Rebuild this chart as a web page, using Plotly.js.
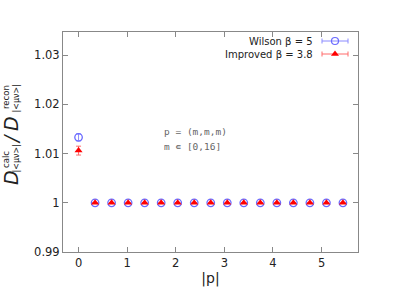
<!DOCTYPE html>
<html>
<head>
<meta charset="utf-8">
<script src="https://cdn.plot.ly/plotly-3.0.1.min.js"></script>
<style>html,body{margin:0;padding:0;background:#fff;}#chart{width:406px;height:287px;}</style>
</head>
<body>
<div id="chart"></div>
<script>
// |p| values (p = (m,m,m), m = 0..16)
const pAbs = [0, 0.34, 0.68, 1.02, 1.36, 1.70, 2.04, 2.38, 2.72, 3.06, 3.40, 3.74, 4.08, 4.42, 4.76, 5.10, 5.44];
const wilson = [1.0133, 1, 1, 1, 1, 1, 1, 1, 1, 1, 1, 1, 1, 1, 1, 1, 1];
const wilsonErr = [0.0007, 0, 0, 0, 0, 0, 0, 0, 0, 0, 0, 0, 0, 0, 0, 0, 0];
const improved = [1.0106, 1, 1, 1, 1, 1, 1, 1, 1, 1, 1, 1, 1, 1, 1, 1, 1];
const improvedErr = [0.0009, 0, 0, 0, 0, 0, 0, 0, 0, 0, 0, 0, 0, 0, 0, 0, 0];
const seriesNames = ["Wilson β = 5", "Improved β = 3.8"];
const xTicks = [0, 1, 2, 3, 4, 5];
const yTicks = [0.99, 1, 1.01, 1.02, 1.03];
const yTickText = ["0.99", "1", "1.01", "1.02", "1.03"];

const blue = '#6a6aff', blueErr = '#8a8aff';
const red = '#ff0000', redErr = '#ff6a6a';
const F = 'DejaVu Sans, sans-serif';
const MONO = 'DejaVu Sans Mono, monospace';

// plot box in pixels
const L = 63, R = 358, T = 32, B = 252, W = 406, H = 287;
const px = x => (x - L) / (R - L);
const py = y => (B - y) / (B - T);

const traces = [
  {x: pAbs, y: wilson, type: 'scatter', mode: 'markers', name: seriesNames[0],
   marker: {symbol: 'circle-open', size: 7.5, color: blue, line: {width: 1.3, color: blue}},
   error_y: {type: 'data', array: wilsonErr, visible: true, color: blueErr, thickness: 1, width: 2.5},
   showlegend: false},
  {x: pAbs, y: improved, type: 'scatter', mode: 'markers', name: seriesNames[1],
   marker: {symbol: 'triangle-up', size: 7, color: red},
   error_y: {type: 'data', array: improvedErr, visible: true, color: redErr, thickness: 1, width: 2.5},
   showlegend: false},
  // legend keys (drawn on a hidden overlay axis, layout only)
  {x: [px(335)], y: [py(41)], xaxis: 'x2', yaxis: 'y2', type: 'scatter', mode: 'markers',
   marker: {symbol: 'circle-open', size: 7, color: blue, line: {width: 1.2, color: blue}},
   error_x: {type: 'constant', value: px(348) - px(335), visible: true, color: blueErr, thickness: 1, width: 2.5},
   showlegend: false, hoverinfo: 'skip'},
  {x: [px(335)], y: [py(54)], xaxis: 'x2', yaxis: 'y2', type: 'scatter', mode: 'markers',
   marker: {symbol: 'triangle-up', size: 7, color: red},
   error_x: {type: 'constant', value: px(348) - px(335), visible: true, color: redErr, thickness: 1, width: 2.5},
   showlegend: false, hoverinfo: 'skip'}
];

function ann(text, x, y, size, opts) {
  return Object.assign({text: text, xref: 'paper', yref: 'paper', x: px(x), y: py(y),
    xanchor: 'center', yanchor: 'middle', showarrow: false,
    font: {family: F, size: size, color: '#222'}}, opts || {});
}

const annotations = [
  // y-axis title, built from pieces to stack sub/superscripts
  ann('<i>D</i>', 11, 178, 19, {textangle: -90}),
  ann('calc', 6, 160, 8.5, {textangle: -90}),
  ann('|&lt;μν&gt;|', 15.5, 159, 8, {textangle: -90}),
  ann('<i>/</i>', 11, 139, 19, {textangle: -90}),
  ann('<i>D</i>', 11, 124, 19, {textangle: -90}),
  ann('recon', 6, 97, 8.5, {textangle: -90}),
  ann('|&lt;μν&gt;|', 15.5, 99, 8, {textangle: -90}),
  // legend labels
  ann(seriesNames[0], 315, 41, 10, {xanchor: 'right'}),
  ann(seriesNames[1], 315, 54, 10, {xanchor: 'right'}),
  // in-plot notes
  ann('p = (m,m,m)', 162, 131, 9.5, {xanchor: 'left', font: {family: MONO, size: 9.5, color: '#666'}}),
  ann('m ∊ [0,16]', 162, 146, 9.5, {xanchor: 'left', font: {family: MONO, size: 9.5, color: '#666'}})
];

const axCommon = {showline: true, linecolor: '#888', linewidth: 1, mirror: 'ticks',
  ticks: 'inside', ticklen: 5, tickcolor: '#888', tickwidth: 1,
  showgrid: false, zeroline: false, tickfont: {family: F, size: 11.5, color: '#222'}};

const layout = {
  width: W, height: H,
  margin: {l: L, r: W - R, t: T, b: H - B, pad: 0},
  paper_bgcolor: '#fff', plot_bgcolor: '#fff',
  showlegend: false,
  xaxis: Object.assign({}, axCommon, {range: [-0.32, 5.75], tickvals: xTicks,
    title: {text: '|p|', font: {family: F, size: 14, color: '#222'}, standoff: 7}}),
  yaxis: Object.assign({}, axCommon, {range: [0.99, 1.0347], tickvals: yTicks, ticktext: yTickText}),
  xaxis2: {overlaying: 'x', range: [0, 1], visible: false, fixedrange: true},
  yaxis2: {overlaying: 'y', range: [0, 1], visible: false, fixedrange: true},
  annotations: annotations
};

Plotly.newPlot('chart', traces, layout, {staticPlot: true});
</script>
</body>
</html>
